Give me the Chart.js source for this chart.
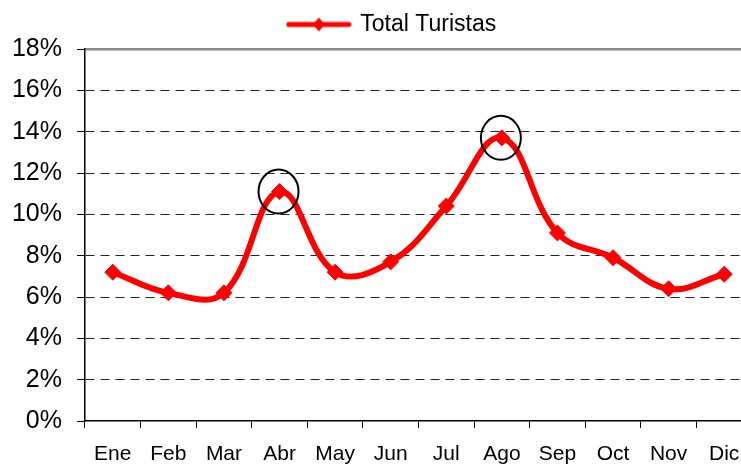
<!DOCTYPE html>
<html>
<head>
<meta charset="utf-8">
<script src="https://cdn.jsdelivr.net/npm/chart.js@4/dist/chart.umd.min.js"></script>
<style>
  html, body { margin: 0; padding: 0; background: #fff; overflow: hidden; }
  .chart-wrap { position: relative; width: 785px; height: 465px; }
</style>
</head>
<body>
<div class="chart-wrap">
  <canvas id="turistas"></canvas>
</div>
<script>
const MONTHS = ['Ene', 'Feb', 'Mar', 'Abr', 'May', 'Jun', 'Jul', 'Ago', 'Sep', 'Oct', 'Nov', 'Dic'];
const TOTAL_TURISTAS = [7.2, 6.2, 6.2, 11.1, 7.2, 7.7, 10.4, 13.7, 9.1, 7.9, 6.4, 7.1];
const HIGHLIGHTED = ['Abr', 'Ago'];
const SERIES_LABEL = 'Total Turistas';
const Y_MAX = 18;

const RED = '#ff0000';
const FONT = `'Liberation Sans', Arial, sans-serif`;

// legend symbol: thick line with a diamond in the middle
const makeLegendSymbol = () => {
  const c = document.createElement('canvas');
  c.width = 66;
  c.height = 18;
  const ctx = c.getContext('2d');
  ctx.strokeStyle = RED;
  ctx.lineWidth = 5;
  ctx.lineCap = 'round';
  ctx.beginPath();
  ctx.moveTo(3, 9);
  ctx.lineTo(63, 9);
  ctx.stroke();
  ctx.fillStyle = RED;
  ctx.beginPath();
  ctx.moveTo(33, 2);
  ctx.lineTo(39, 9);
  ctx.lineTo(33, 16);
  ctx.lineTo(27, 9);
  ctx.closePath();
  ctx.fill();
  return c;
};

// circles around the highlighted months
const circlePlugin = {
  id: 'circles',
  afterDatasetsDraw(chart) {
    const meta = chart.getDatasetMeta(0);
    const ctx = chart.ctx;
    ctx.save();
    ctx.strokeStyle = '#000';
    ctx.lineWidth = 2;
    HIGHLIGHTED.forEach((month) => {
      const point = meta.data[MONTHS.indexOf(month)];
      ctx.beginPath();
      ctx.ellipse(point.x - 1, point.y, 20, 22, 0, 0, Math.PI * 2);
      ctx.stroke();
    });
    ctx.restore();
  }
};

// top and bottom lines come from the frame / x axis, not from the dashed grid
const isEdge = (c) => c.tick && (c.tick.value === Y_MAX || c.tick.value === 0);

const ctx = document.getElementById('turistas').getContext('2d');

new Chart(ctx, {
  type: 'line',
  plugins: [circlePlugin],
  data: {
    labels: MONTHS,
    datasets: [{
      label: SERIES_LABEL,
      data: TOTAL_TURISTAS,
      borderColor: RED,
      backgroundColor: RED,
      borderWidth: 6,
      tension: 0.4,
      pointStyle: 'rectRot',
      pointRadius: 8,
      pointBorderWidth: 1,
      pointBackgroundColor: RED,
      pointBorderColor: RED,
      pointHoverRadius: 8,
    }],
  },
  options: {
    responsive: true,
    maintainAspectRatio: false,
    animation: false,
    layout: {
      padding: {top: 3, right: 0, bottom: 0, left: 0},
    },
    plugins: {
      tooltip: {enabled: false},
      legend: {
        position: 'top',
        labels: {
          color: '#000',
          font: {family: FONT, size: 23},
          padding: 10,
          usePointStyle: true,
          pointStyleWidth: 60,
          generateLabels: () => [{
            text: SERIES_LABEL,
            pointStyle: makeLegendSymbol(),
            fillStyle: RED,
            strokeStyle: RED,
            lineWidth: 0,
            datasetIndex: 0,
          }],
        },
      },
    },
    scales: {
      x: {
        offset: true,
        grid: {
          offset: true,
          drawOnChartArea: false,
          drawTicks: true,
          tickLength: 7,
          tickColor: '#000',
          tickWidth: 1,
        },
        border: {color: '#000', width: 1.5},
        ticks: {
          color: '#000',
          font: {family: FONT, size: 21},
          padding: 14,
          maxRotation: 0,
          autoSkip: false,
        },
        afterFit: (scale) => {
          scale.height = 44;
        },
      },
      // top frame line of the plot (grid must stay on so the border gets placed)
      frame: {
        position: 'top',
        type: 'category',
        labels: MONTHS,
        grid: {display: true, drawOnChartArea: false, drawTicks: false, color: '#888'},
        ticks: {display: false},
        border: {display: true, color: '#888', width: 2.5},
        afterFit: (scale) => {
          scale.height = 3;
        },
      },
      y: {
        min: 0,
        max: Y_MAX,
        grid: {
          color: (c) => (isEdge(c) ? 'rgba(0,0,0,0)' : '#222'),
          lineWidth: 1,
          drawTicks: true,
          tickLength: 8,
          tickColor: '#000',
          tickWidth: 1,
          tickBorderDash: [],
        },
        border: {color: '#000', width: 1.5, dash: [9, 6]},
        ticks: {
          stepSize: 2,
          color: '#000',
          font: {family: FONT, size: 25},
          padding: 15,
          callback: (value) => `${value}%`,
        },
        afterFit: (scale) => {
          scale.width = 85;
        },
      },
      // empty right gutter, the plot runs on past the visible edge
      gutter: {
        position: 'right',
        type: 'linear',
        grid: {display: false, drawTicks: false},
        ticks: {display: false},
        border: {display: false},
        afterFit: (scale) => {
          scale.width = 33;
        },
      },
    },
  },
});
</script>
</body>
</html>
